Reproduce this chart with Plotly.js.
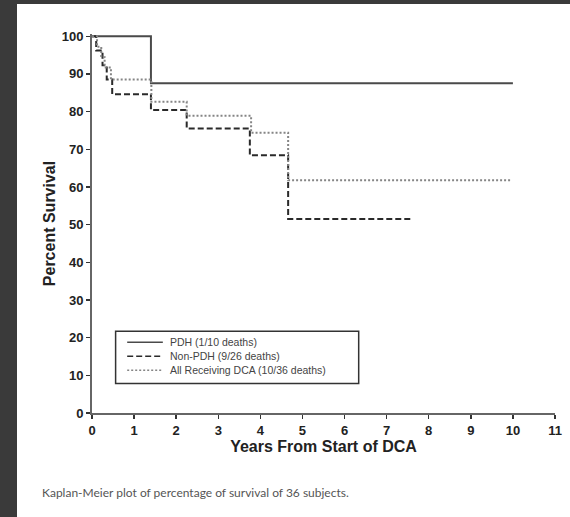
<!DOCTYPE html>
<html>
<head>
<meta charset="utf-8">
<script src="https://cdn.plot.ly/plotly-3.0.1.min.js"></script>
<style>
  html, body { margin: 0; padding: 0; background: #3a3a3a; width: 570px; height: 517px; overflow: hidden; }
  #chart { position: absolute; left: 17px; top: 4px; width: 553px; height: 513px; background: #ffffff; }
</style>
</head>
<body>
<div id="chart"></div>
<script>
// Kaplan-Meier step data (years, percent survival)
const pdhYears = [0, 1.4, 10];
const pdhSurv = [100, 87.5, 87.5];

const nonPdhYears = [0, 0.1, 0.25, 0.35, 0.48, 1.4, 2.25, 3.75, 4.66, 7.6];
const nonPdhSurv = [100, 96.2, 92.3, 88.5, 84.6, 80.4, 75.5, 68.4, 51.5, 51.5];

const allYears = [0, 0.12, 0.22, 0.3, 0.45, 1.41, 2.25, 3.78, 4.66, 9.95];
const allSurv = [100, 97.2, 94.4, 91.7, 88.5, 82.6, 78.9, 74.4, 61.8, 61.8];

const seriesNames = ["PDH (1/10 deaths)", "Non-PDH (9/26 deaths)", "All Receiving DCA (10/36 deaths)"];
const xTicks = [0,1,2,3,4,5,6,7,8,9,10,11];
const yTicks = [0,10,20,30,40,50,60,70,80,90,100];
const xTitle = "Years From Start of DCA";
const yTitle = "Percent Survival";
const caption = "Kaplan-Meier plot of percentage of survival of 36 subjects.";

const lineStyles = [
  { shape: "hv", color: "#4a4a4a", width: 2, dash: "solid" },
  { shape: "hv", color: "#2a2a2a", width: 2, dash: "6px,3px" },
  { shape: "hv", color: "#858585", width: 2, dash: "2px,2px" }
];

const traces = [
  { x: pdhYears, y: pdhSurv, name: seriesNames[0], mode: "lines", line: lineStyles[0] },
  { x: nonPdhYears, y: nonPdhSurv, name: seriesNames[1], mode: "lines", line: lineStyles[1] },
  { x: allYears, y: allSurv, name: seriesNames[2], mode: "lines", line: lineStyles[2] }
];

const tickFont = { family: "Liberation Sans, Arial, sans-serif", size: 13, color: "#222", weight: "bold" };

// Legend box (drawn in paper coordinates of the plot area)
const legBox = { x0: 0.051, x1: 0.576, y0: 0.078, y1: 0.216 };
const legRowsY = [0.187, 0.150, 0.113];
const legSample = [0.076, 0.153];
const legTextX = 0.165;

const shapes = [
  { type: "rect", xref: "paper", yref: "paper", x0: legBox.x0, x1: legBox.x1, y0: legBox.y0, y1: legBox.y1,
    line: { color: "#333", width: 1.5 }, fillcolor: "#ffffff", layer: "above" }
];
const annotations = [];
seriesNames.forEach((name, i) => {
  shapes.push({ type: "line", xref: "paper", yref: "paper", x0: legSample[0], x1: legSample[1],
    y0: legRowsY[i], y1: legRowsY[i], line: { color: lineStyles[i].color, width: 1.5, dash: lineStyles[i].dash }, layer: "above" });
  annotations.push({ text: name, xref: "paper", yref: "paper", x: legTextX, y: legRowsY[i],
    xanchor: "left", yanchor: "middle", showarrow: false,
    font: { family: "Liberation Sans, Arial, sans-serif", size: 10.5, color: "#444" } });
});
annotations.push({ text: caption, xref: "paper", yref: "paper", x: -0.112, y: -0.211,
  xanchor: "left", yanchor: "middle", showarrow: false,
  font: { family: "Lato, Open Sans, sans-serif", size: 12, color: "#555" } });

const layout = {
  width: 553, height: 513,
  margin: { l: 75, r: 15, t: 30, b: 104 },
  paper_bgcolor: "#ffffff",
  plot_bgcolor: "#ffffff",
  showlegend: false,
  xaxis: {
    range: [0, 11], tickvals: xTicks, ticktext: xTicks.map(String),
    showgrid: false, zeroline: false,
    showline: true, linecolor: "#666", linewidth: 2,
    ticks: "outside", ticklen: 4, tickwidth: 1.5, tickcolor: "#333",
    tickfont: tickFont,
    title: { text: xTitle, standoff: 1,
      font: { family: "Liberation Sans, Arial, sans-serif", size: 16, color: "#222", weight: "bold" } }
  },
  yaxis: {
    range: [0, 100.6], tickvals: yTicks, ticktext: yTicks.map(String),
    showgrid: false, zeroline: false,
    showline: true, linecolor: "#666", linewidth: 2,
    ticks: "outside", ticklen: 4, tickwidth: 1.5, tickcolor: "#333",
    tickfont: tickFont,
    title: { text: yTitle, standoff: 2,
      font: { family: "Liberation Sans, Arial, sans-serif", size: 16, color: "#222", weight: "bold" } }
  },
  shapes: shapes,
  annotations: annotations
};

Plotly.newPlot("chart", traces, layout, { displayModeBar: false, staticPlot: true });
</script>
</body>
</html>
